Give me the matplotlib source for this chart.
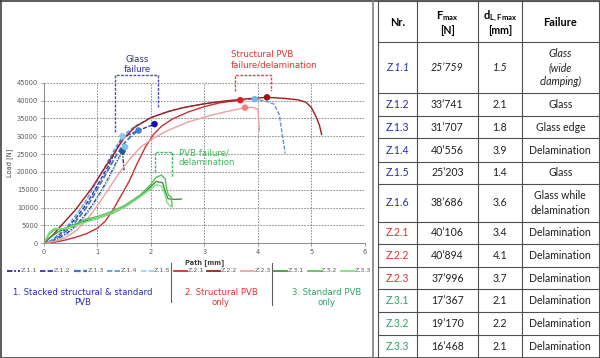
import matplotlib
matplotlib.use("Agg")
import matplotlib.pyplot as plt
from matplotlib.lines import Line2D

# ---- data ----
z11_x = [0, 0.15, 0.3, 0.45, 0.6, 0.75, 0.9, 1.05, 1.2, 1.35, 1.47, 1.5]
z11_y = [0, 500, 1500, 3000, 5000, 7500, 10500, 14000, 18000, 22500, 25800, 20500]
z12_x = [0, 0.15, 0.3, 0.45, 0.6, 0.75, 0.9, 1.05, 1.2, 1.35, 1.47, 1.6, 1.77, 1.9, 2.07]
z12_y = [0, 800, 2500, 4500, 7000, 10000, 13500, 17500, 21500, 26000, 29800, 30500, 31600, 32400, 33400]
z13_x = [0, 0.15, 0.3, 0.45, 0.6, 0.75, 0.9, 1.05, 1.2, 1.35, 1.5, 1.65, 1.77]
z13_y = [0, 600, 2000, 3800, 6200, 9000, 12500, 16500, 20500, 24500, 28000, 30300, 31600]
z14_x = [0, 0.15, 0.3, 0.45, 0.6, 0.75, 0.9, 1.05, 1.2, 1.35, 1.47, 1.7, 2.0, 2.4, 2.8,
         3.2, 3.6, 3.94, 4.15, 4.3, 4.4, 4.46, 4.51]
z14_y = [0, 900, 2800, 5000, 7800, 11000, 14800, 19000, 23000, 27000, 30000, 32800, 35200, 37300, 38600,
         39500, 40100, 40400, 39800, 39000, 36000, 30000, 25200]
z15_x = [0, 0.15, 0.3, 0.45, 0.6, 0.75, 0.9, 1.05, 1.2, 1.35, 1.52]
z15_y = [0, 400, 1200, 2600, 4500, 7000, 10000, 13500, 17500, 22000, 27000]

z21_x = [0, 0.2, 0.4, 0.6, 0.8, 1.0, 1.15, 1.3, 1.45, 1.6, 1.75, 1.9, 2.05, 2.2, 2.4, 2.7, 3.0, 3.3, 3.67]
z21_y = [0, 300, 900, 1700, 2700, 4200, 6200, 9500, 13500, 17500, 22500, 27000, 30500, 32800, 34800,
         36800, 38300, 39400, 40100]
z22_x = [0, 0.15, 0.3, 0.45, 0.6, 0.75, 0.9, 1.05, 1.2, 1.35, 1.5, 1.7, 2.0, 2.3, 2.6, 3.0, 3.4, 3.8,
         4.17, 4.5, 4.75, 4.9, 5.0, 5.1, 5.15, 5.19]
z22_y = [0, 2000, 4500, 7000, 9500, 12500, 15500, 19000, 22500, 26000, 29500, 32500, 35200, 36800, 38000,
         39100, 39900, 40500, 40900, 40600, 40200, 39500, 38000, 35000, 33000, 30500]
z23_x = [0, 0.2, 0.4, 0.6, 0.8, 1.0, 1.2, 1.4, 1.6, 1.8, 2.0, 2.3, 2.7, 3.1, 3.5, 3.76, 3.9, 4.0, 4.03]
z23_y = [0, 500, 1500, 3500, 6500, 10500, 15000, 19500, 23500, 26800, 29000, 31500, 34000, 35800, 37200,
         38000, 38100, 37500, 31500]

z31_x = [0, 0.1, 0.3, 0.5, 0.7, 1.0, 1.3, 1.6, 1.9, 2.1, 2.22, 2.27, 2.32, 2.45, 2.57]
z31_y = [0, 1500, 3500, 4500, 6000, 7000, 8500, 11000, 14500, 17300, 17000, 14500, 12500, 12300, 12400]
z32_x = [0, 0.1, 0.2, 0.4, 0.6, 0.8, 1.0, 1.2, 1.5, 1.8, 2.0, 2.1, 2.2, 2.27, 2.3, 2.33, 2.38, 2.4]
z32_y = [0, 2500, 3800, 4200, 5500, 6800, 7500, 8500, 10500, 13500, 16500, 18500, 19100, 18000, 15000,
         13500, 13000, 10300]
z33_x = [0, 0.1, 0.2, 0.4, 0.6, 0.9, 1.2, 1.5, 1.8, 2.1, 2.2, 2.27, 2.3, 2.38]
z33_y = [0, 3000, 4200, 4000, 5000, 6500, 8000, 10000, 13000, 16400, 16000, 13500, 11500, 10200]

# failure points (path mm, load N)
fail_x = [1.47, 1.52, 1.47, 1.77, 2.07, 3.94, 3.67, 4.17, 3.76]
fail_y = [25800, 27000, 30000, 31600, 33400, 40400, 40100, 40900, 38000]
fail_c = ['#1f5f8b', '#7fc4ea', '#8cc8ee', '#3f7fd6', '#1010b0', '#78b6ec', '#e02020', '#a01010', '#f08080']

# table
tab_nr = ['Z.1.1', 'Z.1.2', 'Z.1.3', 'Z.1.4', 'Z.1.5', 'Z.1.6', 'Z.2.1', 'Z.2.2', 'Z.2.3',
          'Z.3.1', 'Z.3.2', 'Z.3.3']
tab_f = ['25\u2019759', '33\u2019741', '31\u2019707', '40\u2019556', '25\u2019203', '38\u2019686',
         '40\u2019106', '40\u2019894', '37\u2019996', '17\u2019367', '19\u2019170', '16\u2019468']
tab_d = ['1.5', '2.1', '1.8', '3.9', '1.4', '3.6', '3.4', '4.1', '3.7', '2.1', '2.2', '2.1']
tab_fail = ['Glass\n(wide\nclamping)', 'Glass', 'Glass edge', 'Delamination', 'Glass',
            'Glass while\ndelamination', 'Delamination', 'Delamination', 'Delamination',
            'Delamination', 'Delamination', 'Delamination']

BLUE = '#2b2ba8'
RED = '#dd3333'
GREEN = '#2ea266'

series = [
    ('Z.1.1', z11_x, z11_y, '#2f2f80', (0, (3, 1, 1, 1)), 1.0),
    ('Z.1.2', z12_x, z12_y, '#3535b5', (0, (3, 1.2)), 1.0),
    ('Z.1.3', z13_x, z13_y, '#4472c4', (0, (3, 1.2)), 1.3),
    ('Z.1.4', z14_x, z14_y, '#5b9bd5', (0, (3, 1.2)), 1.0),
    ('Z.1.5', z15_x, z15_y, '#9fd4ea', (0, (3, 1.2)), 1.0),
    ('Z.2.1', z21_x, z21_y, '#cc3030', '-', 1.0),
    ('Z.2.2', z22_x, z22_y, '#a01c1c', '-', 1.0),
    ('Z.2.3', z23_x, z23_y, '#eea0a0', '-', 1.0),
    ('Z.3.1', z31_x, z31_y, '#3c9a3c', '-', 1.0),
    ('Z.3.2', z32_x, z32_y, '#5cc05c', '-', 1.0),
    ('Z.3.3', z33_x, z33_y, '#7ee07e', '-', 1.0),
]

fig = plt.figure(figsize=(6, 3.58), dpi=100)
W, H = 600, 358

# overlay in pixel coordinates for frames, legend and table
ov = fig.add_axes([0, 0, 1, 1], zorder=0)
ov.set_xlim(0, W)
ov.set_ylim(H, 0)
ov.axis('off')

ax = fig.add_axes([43.7 / W, 1 - 243.3 / H, (365 - 43.7) / W, (243.3 - 82.7) / H], zorder=2)
ax.patch.set_alpha(0)

for name, xs, ys, col, ls, lw in series:
    ax.plot(xs, ys, color=col, ls=ls, lw=lw)
ax.scatter(fail_x, fail_y, s=22, c=fail_c, zorder=5, edgecolors='none')

ax.set_xlim(0, 6)
ax.set_ylim(0, 45000)
ax.set_xticks(range(0, 7))
ax.set_yticks(range(0, 45001, 5000))
ax.grid(True, color='#808080', ls=(0, (2, 1.5)), lw=0.6)
for s in ['top', 'right']:
    ax.spines[s].set_visible(False)
for s in ['left', 'bottom']:
    ax.spines[s].set_color('#8c8c8c')
    ax.spines[s].set_linewidth(0.7)
ax.tick_params(labelsize=4.8, colors='#8c8c8c', labelcolor='#595959', length=2, width=0.6, pad=2)
ax.set_ylabel('Load [N]', fontsize=4.8, color='#404040', labelpad=3)
ax.set_xlabel('Path [mm]', fontsize=4.8, color='#404040', fontweight='bold', labelpad=3)

# failure brackets
def bracket(x1, x2, ytop, yl, yr, col):
    ax.plot([x1, x1, x2, x2], [yl, ytop, ytop, yr], color=col, ls=(0, (2, 1)), lw=1.0, clip_on=False)

bracket(1.33, 2.14, 47250, 31300, 37800, '#4b4bc8')
bracket(3.58, 4.25, 47100, 42800, 42800, '#e04848')
bracket(2.07, 2.40, 25500, 20100, 18700, '#3cb85a')
ax.text(1.75, 50200, 'Glass\nfailure', color=BLUE, fontsize=6.2, ha='center', va='center', linespacing=1.15)
ax.text(3.5, 51400, 'Structural PVB\nfailure/delamination', color=RED, fontsize=6.2, ha='left',
        va='center', linespacing=1.15)
ax.text(2.52, 24000, 'PVB failure/\ndelamination', color='#3cb85a', fontsize=6.2, ha='left',
        va='center', linespacing=1.15)

# legend row
for i, (name, xs, ys, col, ls, lw) in enumerate(series):
    x0 = 7 + i * 33.4
    ov.add_line(Line2D([x0, x0 + 13], [270.5, 270.5], color=col, ls=ls, lw=lw + 0.3))
    ov.text(x0 + 13.5, 270.5, name, fontsize=4.6, color='#595959', ha='left', va='center')
ov.plot([170.7, 170.7], [263, 302], color='#606060', lw=0.8)
ov.plot([271.7, 271.7], [263, 305], color='#606060', lw=0.8)
ov.text(82.3, 297.5, '1. Stacked structural & standard\nPVB', color=BLUE, fontsize=6.1,
        ha='center', va='center', linespacing=1.2)
ov.text(221, 297.5, '2. Structural PVB\nonly', color=RED, fontsize=6.1, ha='center', va='center',
        linespacing=1.2)
ov.text(326.5, 297.5, '3. Standard PVB\nonly', color=GREEN, fontsize=6.1, ha='center', va='center',
        linespacing=1.2)

# outer frame
ov.plot([0.5, 599.5, 599.5, 0.5, 0.5], [0.5, 0.5, 357.5, 357.5, 0.5], color='#404040', lw=1.2)
ov.plot([373, 373], [0, 358], color='#7f7f7f', lw=1.2)

# table
col_x = [378, 416.7, 478, 521.7, 599]
row_y = [1, 41.7, 93.3, 116, 138.3, 161.7, 184.3, 221.7, 244, 266.7, 289.3, 312.3, 335, 357.5]
for cx in col_x:
    ov.plot([cx, cx], [row_y[0], row_y[-1]], color='#505050', lw=0.8)
for ry in row_y:
    ov.plot([col_x[0], col_x[-1]], [ry, ry], color='#505050', lw=0.8)

tfont = 'Lato'
fs = 7.6
ctr = [(col_x[i] + col_x[i + 1]) / 2 for i in range(4)]
ov.text(ctr[0], 22, 'Nr.', fontsize=fs + 0.3, fontweight='bold', family=tfont, ha='center', va='center')
ov.text(ctr[1], 16, 'F$_{\\mathregular{max}}$', fontsize=fs + 0.3, fontweight='bold', family=tfont,
        ha='center', va='center')
ov.text(ctr[1], 31, '[N]', fontsize=fs, fontweight='bold', family=tfont, ha='center', va='center')
ov.text(ctr[2], 16, 'd$_{\\mathregular{L,Fmax}}$', fontsize=fs + 0.3, fontweight='bold', family=tfont,
        ha='center', va='center')
ov.text(ctr[2], 31, '[mm]', fontsize=fs, fontweight='bold', family=tfont, ha='center', va='center')
ov.text(ctr[3], 22, 'Failure', fontsize=fs + 0.3, fontweight='bold', family=tfont, ha='center', va='center')

for r in range(len(tab_nr)):
    yc = (row_y[r + 1] + row_y[r + 2]) / 2
    grp = tab_nr[r][2]
    ncol = {'1': BLUE, '2': RED, '3': GREEN}[grp]
    sty = 'italic' if r == 0 else 'normal'
    ov.text(ctr[0], yc, tab_nr[r], fontsize=fs, family=tfont, color=ncol, style=sty, ha='center', va='center')
    ov.text(ctr[1], yc, tab_f[r], fontsize=fs, family=tfont, color='#202020', style=sty, ha='center', va='center')
    ov.text(ctr[2], yc, tab_d[r], fontsize=fs, family=tfont, color='#202020', style=sty, ha='center', va='center')
    ov.text(ctr[3], yc, tab_fail[r], fontsize=fs, family=tfont, color='#202020', style=sty, ha='center',
            va='center', linespacing=1.35)

fig.savefig('out.png', dpi=100)
